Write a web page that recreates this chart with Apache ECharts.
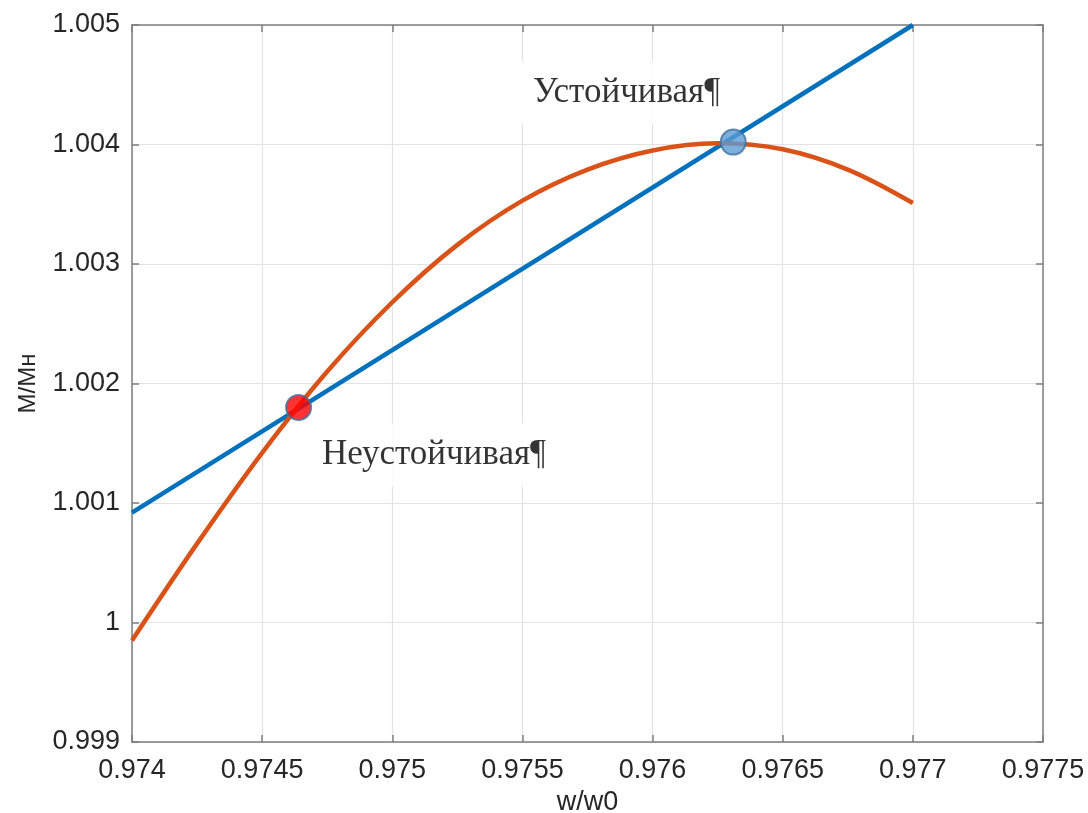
<!DOCTYPE html>
<html>
<head>
<meta charset="utf-8">
<script src="https://cdn.jsdelivr.net/npm/echarts@6/dist/echarts.min.js"></script>
<style>
  html, body { margin: 0; padding: 0; background: #fff; }
  #chart { width: 1088px; height: 813px; }
</style>
</head>
<body>
<div id="chart"></div>
<script>
// Load line (straight) and motor torque curve M/Mн vs w/w0
const loadLine = [[0.974, 1.00092], [0.977, 1.005]];
const torqueCurve = [
  [0.974, 0.99985], [0.97425, 1.00066], [0.9745, 1.00142], [0.97475, 1.0021],
  [0.975, 1.00268], [0.97525, 1.00316], [0.9755, 1.00353], [0.97575, 1.00379],
  [0.976, 1.00395], [0.97625, 1.00401], [0.9765, 1.00396], [0.97675, 1.00379],
  [0.977, 1.00351]
];
// Operating points
const unstablePoint = [0.97464, 1.0018];
const stablePoint = [0.97631, 1.00402];
// Annotation positions and texts
const stableLabel = { pos: [0.97590, 1.00443], text: 'Устойчивая¶' };
const unstableLabel = { pos: [0.97516, 1.00140], text: 'Неустойчивая¶' };
// Axis ticks
const xTicks = [0.974, 0.9745, 0.975, 0.9755, 0.976, 0.9765, 0.977, 0.9775];
const xTickLabels = ['0.974', '0.9745', '0.975', '0.9755', '0.976', '0.9765', '0.977', '0.9775'];
const yTicks = [0.999, 1.0, 1.001, 1.002, 1.003, 1.004, 1.005];
const yTickLabels = ['0.999', '1', '1.001', '1.002', '1.003', '1.004', '1.005'];

function tickLabel(ticks, labels) {
  return function (v) {
    let best = 0;
    for (let i = 1; i < ticks.length; i++) {
      if (Math.abs(ticks[i] - v) < Math.abs(ticks[best] - v)) best = i;
    }
    return labels[best];
  };
}

const axisColor = '#7f7f7f';
const textColor = '#262626';
const font = 'Liberation Sans, Arial, sans-serif';

const chart = echarts.init(document.getElementById('chart'), null, { renderer: 'canvas' });

const commonX = {
  type: 'value', min: 0.974, max: 0.9775, interval: 0.0005,
  axisLine: { show: true, onZero: false, lineStyle: { color: axisColor, width: 1.5 } },
  axisTick: { show: true, inside: true, length: 7, lineStyle: { color: axisColor, width: 1.5 } },
  splitLine: { show: false }
};
const commonY = {
  type: 'value', min: 0.999, max: 1.005, interval: 0.001,
  axisLine: { show: true, onZero: false, lineStyle: { color: axisColor, width: 1.5 } },
  axisTick: { show: true, inside: true, length: 7, lineStyle: { color: axisColor, width: 1.5 } },
  splitLine: { show: false }
};

function textLabel(item) {
  return {
    type: 'scatter',
    data: [item.pos],
    symbolSize: 0,
    silent: true,
    z: 5,
    label: {
      show: true,
      position: 'inside',
      formatter: item.text,
      fontFamily: 'Liberation Serif, Times New Roman, serif',
      fontSize: 35,
      color: '#000',
      backgroundColor: '#ffffff',
      padding: [14, 14, 14, 14]
    }
  };
}

chart.setOption({
  animation: false,
  backgroundColor: '#ffffff',
  grid: { left: 132, right: 45, top: 25, bottom: 71, outerBoundsMode: 'none', containLabel: false },
  xAxis: [
    Object.assign({}, commonX, {
      position: 'bottom',
      name: 'w/w0', nameLocation: 'middle', nameGap: 47,
      nameTextStyle: { fontFamily: font, fontSize: 27, color: textColor },
      splitLine: { show: true, lineStyle: { color: '#e3e3e3', width: 1.2 } },
      axisLabel: { formatter: tickLabel(xTicks, xTickLabels), fontFamily: font, fontSize: 27, color: textColor, margin: 15 }
    }),
    Object.assign({}, commonX, { position: 'top', axisLabel: { show: false } })
  ],
  yAxis: [
    Object.assign({}, commonY, {
      position: 'left',
      name: 'M/Mн', nameLocation: 'middle', nameGap: 92,
      nameTextStyle: { fontFamily: font, fontSize: 24, color: textColor },
      splitLine: { show: true, lineStyle: { color: '#e3e3e3', width: 1.2 } },
      axisLabel: { formatter: tickLabel(yTicks, yTickLabels), fontFamily: font, fontSize: 27, color: textColor, margin: 12 }
    }),
    Object.assign({}, commonY, { position: 'right', axisLabel: { show: false } })
  ],
  series: [
    textLabel(stableLabel),
    textLabel(unstableLabel),
    {
      type: 'line', data: loadLine, showSymbol: false, z: 6,
      lineStyle: { color: '#0072bd', width: 4.5 }
    },
    {
      type: 'line', data: torqueCurve, smooth: 0.35, showSymbol: false, z: 7,
      lineStyle: { color: '#d95319', width: 4.5 }
    },
    {
      type: 'scatter', data: [unstablePoint], symbolSize: 25, z: 8,
      itemStyle: { color: '#ff0000', borderColor: '#41719c', borderWidth: 2 }
    },
    {
      type: 'scatter', data: [stablePoint], symbolSize: 25, z: 8,
      itemStyle: { color: '#5b9bd5', borderColor: '#41719c', borderWidth: 2 }
    }
  ]
});
</script>
</body>
</html>
